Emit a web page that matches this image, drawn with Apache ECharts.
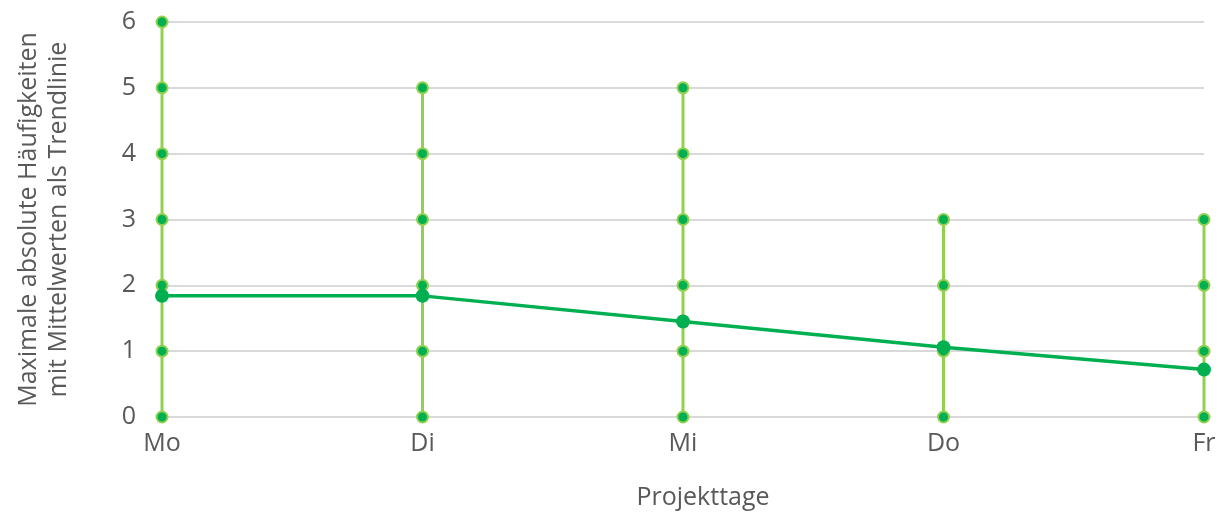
<!DOCTYPE html>
<html>
<head>
<meta charset="utf-8">
<script src="https://cdn.jsdelivr.net/npm/echarts@6/dist/echarts.min.js"></script>
<style>
  html, body { margin: 0; padding: 0; background: #fff; }
  #chart { width: 1229px; height: 515px; }
</style>
</head>
<body>
<div id="chart"></div>
<script>
// Project days and the highest absolute frequency observed on each day
const days = ['Mo', 'Di', 'Mi', 'Do', 'Fr'];
const maxCounts = [6, 5, 5, 3, 3];
// Daily mean values, drawn as the trend line
const means = [1.84, 1.84, 1.45, 1.06, 0.72];
const yTicks = [0, 1, 2, 3, 4, 5, 6];

const FONT = '"Open Sans", "Liberation Sans", sans-serif';
const LIGHT = '#92D050';
const DARK = '#00B050';
const TEXT = '#595959';

// One vertical line per day, with a dot at every integer count up to the maximum
const stemSeries = days.map((d, i) => {
  const pts = [];
  for (let v = 0; v <= maxCounts[i]; v++) pts.push([d, v]);
  return {
    type: 'line',
    data: pts,
    symbol: 'circle',
    symbolSize: 11,
    lineStyle: { color: LIGHT, width: 3 },
    itemStyle: { color: DARK, borderColor: LIGHT, borderWidth: 2 },
    z: 2
  };
});

const chart = echarts.init(document.getElementById('chart'), null, { renderer: 'canvas' });
chart.setOption({
  animation: false,
  grid: { left: 162, right: 25, top: 22, bottom: 95, containLabel: false },
  xAxis: {
    type: 'category',
    data: days,
    boundaryGap: false,
    axisLine: { show: true, lineStyle: { color: '#d9d9d9', width: 2 } },
    axisTick: { show: false },
    axisLabel: { color: TEXT, fontFamily: FONT, fontSize: 25, margin: 14 },
    name: 'Projekttage',
    nameLocation: 'middle',
    nameGap: 68,
    nameTextStyle: { color: TEXT, fontFamily: FONT, fontSize: 25, padding: [0, 0, 0, 40] }
  },
  yAxis: {
    type: 'value',
    min: yTicks[0],
    max: yTicks[yTicks.length - 1],
    interval: 1,
    axisLine: { show: false },
    axisTick: { show: false },
    splitLine: { lineStyle: { color: '#d9d9d9', width: 2 } },
    axisLabel: { color: TEXT, fontFamily: FONT, fontSize: 25, margin: 26 },
    name: 'Maximale absolute Häufigkeiten\nmit Mittelwerten als Trendlinie',
    nameLocation: 'middle',
    nameGap: 88,
    nameTextStyle: { color: TEXT, fontFamily: FONT, fontSize: 25, lineHeight: 30 }
  },
  series: stemSeries.concat([{
    type: 'line',
    data: means,
    symbol: 'circle',
    symbolSize: 14,
    lineStyle: { color: DARK, width: 3.5 },
    itemStyle: { color: DARK },
    z: 5
  }])
});
</script>
</body>
</html>
